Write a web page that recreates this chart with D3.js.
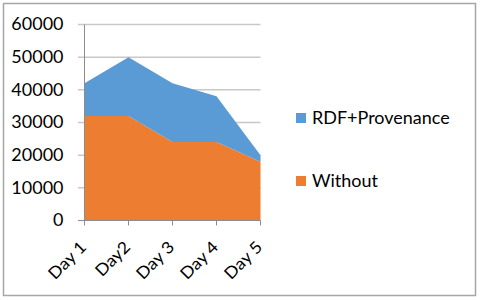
<!DOCTYPE html>
<html><head><meta charset="utf-8">
<script src="https://cdn.jsdelivr.net/npm/d3@7"></script>
<style>html,body{margin:0;padding:0;background:#fff}svg{display:block}</style>
</head><body>
<svg id="c" width="480" height="300"></svg>
<script>
const days = ["Day 1", "Day2", "Day 3", "Day 4", "Day 5"];
const without = [32000, 32000, 24000, 24000, 18000];
const rdfProv = [10000, 18000, 18000, 14000, 2000];
const yTicks = [0, 10000, 20000, 30000, 40000, 50000, 60000];
const seriesNames = ["Without", "RDF+Provenance"];
const colors = {"Without": "#ED7D31", "RDF+Provenance": "#5B9BD5"};
const legendOrder = ["RDF+Provenance", "Without"];

const FONT = "Lato, 'Open Sans', sans-serif";
const FS = 16.5, SX = 1.09;

const svg = d3.select("#c");
svg.append("rect").attr("x", 3.5).attr("y", 3.5).attr("width", 472).attr("height", 292)
  .attr("fill", "#fff").attr("stroke", "#a6a6a6").attr("stroke-width", 1.5);

const x = d3.scalePoint().domain(days).range([84.5, 260.5]);
const y = d3.scaleLinear().domain([0, 60000]).range([220.5, 24.5]);

const table = days.map((d, i) => ({day: d, "Without": without[i], "RDF+Provenance": rdfProv[i]}));
const stack = d3.stack().keys(seriesNames)(table);

// gridlines
svg.append("g").selectAll("line").data(yTicks.filter(t => t > 0)).join("line")
  .attr("x1", 78).attr("x2", 260.5).attr("y1", d => y(d)).attr("y2", d => y(d))
  .attr("stroke", "#c8c8c8").attr("stroke-width", 1.5);

const area = d3.area().x(d => x(d.data.day)).y0(d => y(d[0])).y1(d => y(d[1]));
svg.append("g").selectAll("path").data(stack).join("path")
  .attr("d", area).attr("fill", d => colors[d.key]);

// y axis
const ya = svg.append("g");
ya.append("line").attr("x1", 84.5).attr("x2", 84.5).attr("y1", y(60000)).attr("y2", y(0))
  .attr("stroke", "#8c8c8c").attr("stroke-width", 1);
ya.append("line").attr("x1", 78).attr("x2", 260.5).attr("y1", y(0)).attr("y2", y(0))
  .attr("stroke", "#8c8c8c").attr("stroke-width", 1);
ya.selectAll("text").data(yTicks).join("text")
  .attr("transform", d => `translate(63.5,${y(d) + 5.8}) scale(${SX},1)`)
  .attr("text-anchor", "end").attr("font-family", FONT).attr("font-size", FS)
  .attr("fill", "#000").text(d => d);

// x axis ticks & labels
const xa = svg.append("g");
xa.selectAll("line").data(days).join("line")
  .attr("x1", d => x(d)).attr("x2", d => x(d)).attr("y1", y(0)).attr("y2", y(0) + 5)
  .attr("stroke", "#8c8c8c");
xa.selectAll("text").data(days).join("text")
  .attr("transform", d => `translate(${x(d) + 3},248) rotate(-45) scale(${SX},1)`)
  .attr("text-anchor", "end").attr("font-family", FONT).attr("font-size", FS)
  .attr("fill", "#000").text(d => d);

// legend
const lg = svg.append("g").selectAll("g").data(legendOrder).join("g")
  .attr("transform", (d, i) => `translate(296,${113 + i * 63})`);
lg.append("rect").attr("width", 10).attr("height", 10).attr("fill", d => colors[d]);
lg.append("text").attr("transform", `translate(16,11.3) scale(${SX},1)`)
  .attr("font-family", FONT).attr("font-size", FS).attr("fill", "#000").text(d => d);
</script>
</body></html>
